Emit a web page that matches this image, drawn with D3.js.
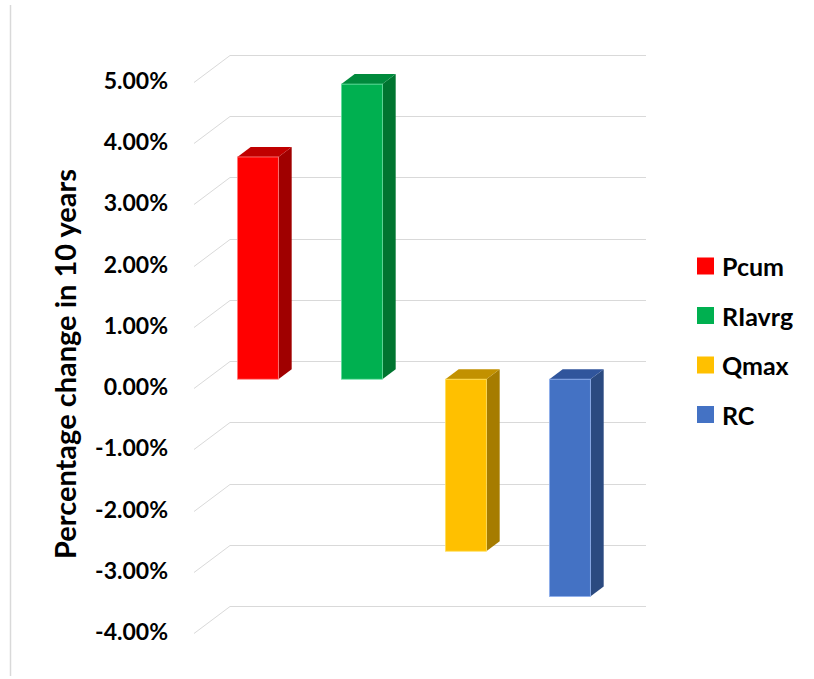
<!DOCTYPE html>
<html>
<head>
<meta charset="utf-8">
<script src="https://cdn.jsdelivr.net/npm/d3@7"></script>
<style>
  html, body { margin: 0; padding: 0; background: #ffffff; }
  svg { display: block; }
  text { font-family: Lato, "Open Sans", "Liberation Sans", sans-serif; font-weight: 700; fill: #000; }
</style>
</head>
<body>
<svg id="chart" width="814" height="679"></svg>
<script>
// Series
const categories = ["Pcum", "RIavrg", "Qmax", "RC"];
const values = [3.63, 4.82, -2.81, -3.55];           // percent change over 10 years
const tickValues = [-4, -3, -2, -1, 0, 1, 2, 3, 4, 5];
const tickLabels = ["-4.00%", "-3.00%", "-2.00%", "-1.00%", "0.00%", "1.00%", "2.00%", "3.00%", "4.00%", "5.00%"];

// Face colours: front, side, top, edge
const frontColors = ["#ff0000", "#00b050", "#ffc000", "#4472c4"];
const sideColors  = ["#a00000", "#007530", "#a67c00", "#2b4a80"];
const topColors   = ["#c00000", "#008a3c", "#c29100", "#30559c"];
const edgeColors  = ["#ff8080", "#66e0a0", "#ffe060", "#8fb0ee"];

const svg = d3.select("#chart");

// Back wall scales
const y = d3.scaleLinear().domain([-4, 5]).range([606, 55]);
const x = d3.scaleBand().domain(categories).range([230, 646])
  .paddingInner(0.606).paddingOuter(0.303);

// Oblique depth: depth 0 = back wall, 1 = front edge
const DX = -36, DY = 27;
const proj = (px, py, d) => [px + d * DX, py + d * DY];
const DEPTH_BACK = 0.30, DEPTH_FRONT = 0.67;

// Left border of the chart area
svg.append("line")
  .attr("x1", 10.5).attr("x2", 10.5).attr("y1", 5).attr("y2", 676)
  .attr("stroke", "#d9d9d9").attr("stroke-width", 1.5);

// Gridlines on the back wall and the side wall
const grid = svg.append("g").attr("stroke", "#d9d9d9").attr("stroke-width", 1).attr("fill", "none");
tickValues.forEach(v => {
  const yy = Math.round(y(v)) + 0.5;
  grid.append("line").attr("x1", 230).attr("x2", 646).attr("y1", yy).attr("y2", yy);
  const a = proj(230, yy, 0), b = proj(230, yy, 1);
  grid.append("line").attr("x1", a[0]).attr("y1", a[1]).attr("x2", b[0]).attr("y2", b[1]);
});

// Y tick labels at the front edge
svg.append("g").selectAll("text").data(tickValues).join("text")
  .attr("x", 168)
  .attr("y", v => proj(230, y(v), 1)[1] - 2)
  .attr("text-anchor", "end")
  .attr("dominant-baseline", "central")
  .attr("font-size", 23)
  .text((v, i) => tickLabels[i]);

// Axis title
svg.append("text")
  .attr("transform", "translate(76,364) rotate(-90)")
  .attr("text-anchor", "middle")
  .attr("font-size", 29)
  .text("Percentage change in 10 years");

// 3D bars
const poly = pts => pts.map(p => p.join(",")).join(" ");
const bars = svg.append("g");
categories.forEach((c, i) => {
  const v = values[i];
  const x0 = x(c), x1 = x(c) + x.bandwidth();
  const yt = y(Math.max(v, 0)), yb = y(Math.min(v, 0));
  const g = bars.append("g");
  // side face
  g.append("polygon")
    .attr("points", poly([proj(x1, yt, DEPTH_FRONT), proj(x1, yt, DEPTH_BACK), proj(x1, yb, DEPTH_BACK), proj(x1, yb, DEPTH_FRONT)]))
    .attr("fill", sideColors[i]);
  // top face
  g.append("polygon")
    .attr("points", poly([proj(x0, yt, DEPTH_FRONT), proj(x1, yt, DEPTH_FRONT), proj(x1, yt, DEPTH_BACK), proj(x0, yt, DEPTH_BACK)]))
    .attr("fill", topColors[i]);
  // front face
  const f0 = proj(x0, yt, DEPTH_FRONT), f1 = proj(x1, yb, DEPTH_FRONT);
  g.append("rect")
    .attr("x", f0[0]).attr("y", f0[1])
    .attr("width", f1[0] - f0[0]).attr("height", f1[1] - f0[1])
    .attr("fill", frontColors[i])
    .attr("stroke", edgeColors[i]).attr("stroke-width", 0.8);
});

// Legend
const legend = svg.append("g");
categories.forEach((c, i) => {
  const cy = 266 + i * 49.5;
  legend.append("rect")
    .attr("x", 697).attr("y", cy - 8.5).attr("width", 17).attr("height", 17)
    .attr("fill", frontColors[i]);
  legend.append("text")
    .attr("x", 722).attr("y", cy)
    .attr("dominant-baseline", "central")
    .attr("font-size", 25)
    .text(c);
});
</script>
</body>
</html>
